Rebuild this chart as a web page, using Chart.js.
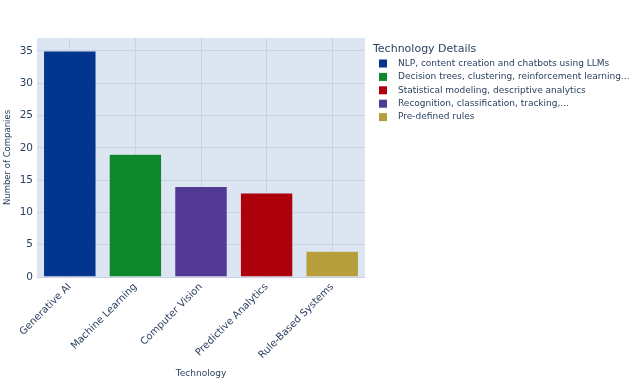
<!DOCTYPE html>
<html>
<head>
<meta charset="utf-8">
<script src="https://cdn.jsdelivr.net/npm/chart.js@4"></script>
<style>
  html, body { margin: 0; padding: 0; background: #fff; }
  #wrap { width: 643px; height: 386px; }
</style>
</head>
<body>
<div id="wrap"><canvas id="myChart" width="643" height="386"></canvas></div>
<script>
// data
var technologies = ['Generative AI', 'Machine Learning', 'Computer Vision', 'Predictive Analytics', 'Rule-Based Systems'];
var companies = [35, 19, 14, 13, 4];
var barColors = ['#02358f', '#0f882d', '#513994', '#ae000b', '#b89f3e'];
var details = [
    'NLP, content creation and chatbots using LLMs',
    'Decision trees, clustering, reinforcement learning...',
    'Recognition, classification, tracking,...',
    'Statistical modeling, descriptive analytics',
    'Pre-defined rules'
];
// order the legend shows its entries in (indexes into the arrays above)
var legendOrder = [0, 1, 3, 2, 4];
var yTicks = [0, 5, 10, 15, 20, 25, 30, 35];

var textColor = '#2a3f5f';
var font = '"DejaVu Sans", Verdana, sans-serif';

// plot background like plotly
var plotBg = {
    id: 'plotBg',
    beforeDraw: function(chart) {
        var a = chart.chartArea, c = chart.ctx;
        c.save();
        c.fillStyle = '#dce5f2';
        c.fillRect(a.left, a.top, a.right - a.left, a.bottom - a.top);
        c.restore();
    }
};

// legend on the right, drawn by hand so the long texts fit
var sideLegend = {
    id: 'sideLegend',
    afterDraw: function(chart) {
        var c = chart.ctx;
        var x = chart.chartArea.right + 8;
        c.save();
        c.fillStyle = textColor;
        c.textBaseline = 'middle';
        c.font = '11px ' + font;
        c.fillText('Technology Details', x, 49);
        c.font = '9px ' + font;
        legendOrder.forEach(function(i, k) {
            var y = 63.5 + k * 13.4;
            c.fillStyle = barColors[i];
            c.fillRect(x + 6, y - 4, 8, 8);
            c.fillStyle = textColor;
            c.fillText(details[i], x + 25, y);
        });
        c.restore();
    }
};

var ctx = document.getElementById('myChart').getContext('2d');
var chart = new Chart(ctx, {
    type: 'bar',
    data: {
        labels: technologies,
        datasets: [{
            label: 'Number of Companies',
            data: companies,
            backgroundColor: barColors,
            borderColor: '#dce5f2',
            borderWidth: 0.5,
            barPercentage: 0.8,
            categoryPercentage: 1.0
        }]
    },
    options: {
        responsive: false,
        animation: false,
        layout: { padding: { left: 0, right: 278, top: 38, bottom: 0 } },
        plugins: {
            tooltip: { enabled: false },
            legend: { display: false }
        },
        scales: {
            x: {
                afterFit: function(axis) { axis.height = 109; },
                grid: { color: '#c8d2e2', offset: false, drawTicks: false },
                border: { display: false },
                ticks: {
                    color: textColor,
                    font: { family: font, size: 10 },
                    maxRotation: 45,
                    minRotation: 45,
                    padding: 4
                },
                title: {
                    display: true,
                    text: 'Technology',
                    color: textColor,
                    font: { family: font, size: 9 },
                    padding: { top: 2, bottom: 7 }
                }
            },
            y: {
                min: 0,
                max: 37,
                afterFit: function(axis) { axis.width = 37; },
                afterBuildTicks: function(axis) {
                    axis.ticks = yTicks.map(function(v) { return { value: v }; });
                },
                grid: { color: '#c8d2e2', drawTicks: false },
                border: { display: false },
                ticks: {
                    color: textColor,
                    font: { family: font, size: 10.5 },
                    padding: 4
                },
                title: {
                    display: true,
                    text: 'Number of Companies',
                    color: textColor,
                    font: { family: font, size: 8.5 },
                    padding: { top: 3, bottom: 0 }
                }
            }
        }
    },
    plugins: [plotBg, sideLegend]
});
</script>
</body>
</html>
